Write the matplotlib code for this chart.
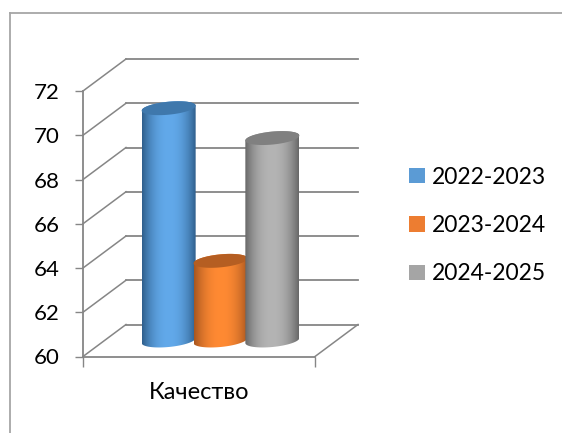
from matplotlib import pyplot as plt
from matplotlib.colors import to_rgb
from matplotlib.patches import Patch, PathPatch, Polygon
from matplotlib.path import Path
import numpy as np

plt.rcParams['font.family'] = ['Lato', 'DejaVu Sans']

years = ['2022-2023', '2023-2024', '2024-2025']
category = 'Качество'
values = [70.5, 63.6, 69.15]
y_ticks = [60, 62, 64, 66, 68, 70, 72]

legend_colors = ['#5B9BD5', '#ED7D31', '#A5A5A5']
edge_colors = ['#2F5F8C', '#A8561F', '#686868']
mid_colors = ['#62A9EA', '#FF8A33', '#B4B4B4']
top_colors = ['#3F78AC', '#B55E22', '#808080']

W, H = 562, 433
# 正面の軸の位置(ピクセル)
left, right, bottom, top = 83, 315, 356.5, 91

fig = plt.figure(figsize=(W / 100, H / 100), dpi=100)
ax = fig.add_axes([left / W, 1 - bottom / H, (right - left) / W, (bottom - top) / H])
ax.set_xlim(0, 1)
ax.set_ylim(60, 72)

# 奥行き方向のずれ(データ単位)
px_x = 1 / (right - left)
px_y = 12 / (bottom - top)
depth_x = 43 * px_x
depth_y = 32 * px_y

grid_c = '#868686'

# 背面のグリッドと側面の斜線
for v in y_ticks:
    ax.plot([depth_x, 1 + depth_x], [v + depth_y, v + depth_y], color=grid_c, lw=1.3, clip_on=False, zorder=1)
    ax.plot([0, depth_x], [v, v + depth_y], color=grid_c, lw=1.1, clip_on=False, zorder=1)
# 床の右側
ax.plot([1, 1 + depth_x], [60, 60 + depth_y], color=grid_c, lw=1.1, clip_on=False, zorder=1)

# 円柱
bar_w = 54 * px_x
cap_h = 6.5 * px_y
tilt = 2.5 * px_y
lift = 16 * px_y
base = 60 + lift
t = np.linspace(0, 2 * np.pi, 121)
n_bars = len(values)

for i, v in enumerate(values):
    cx = 0.5 + (i - (n_bars - 1) / 2) * 0.2235
    a = bar_w / 2
    bar_top = v + lift
    ell_x = cx + depth_x / 2 + a * np.cos(t)
    off_y = cap_h * np.sin(t) + tilt * np.cos(t)
    lower = t >= np.pi
    upper = t <= np.pi
    # 側面の輪郭: 下の楕円の下半分と上の楕円の上半分
    body_x = np.concatenate([ell_x[lower], ell_x[upper]])
    body_y = np.concatenate([base + off_y[lower], bar_top + off_y[upper]])
    body = PathPatch(Path(np.column_stack([body_x, body_y])), transform=ax.transData, fc='none', ec='none')
    ax.add_patch(body)

    e = np.array(to_rgb(edge_colors[i]))
    m = np.array(to_rgb(mid_colors[i]))
    s = np.linspace(-1, 1, 108)
    w = (1 - np.abs(s) ** 2.2)[:, None]
    grad = (e + (m - e) * w)[None, :, :]
    img = ax.imshow(grad, extent=[cx + depth_x / 2 - a, cx + depth_x / 2 + a, base - 10 * px_y, bar_top + 10 * px_y],
                    aspect='auto', origin='lower', zorder=3 + i, interpolation='bilinear')
    img.set_clip_path(body)

    ax.add_patch(Polygon(np.column_stack([ell_x, bar_top + off_y]), closed=True, fc=top_colors[i], ec='none', zorder=3 + i))

ax.set_xlim(0, 1)
ax.set_ylim(60, 72)

# 軸
for name in ['top', 'right']:
    ax.spines[name].set_visible(False)
for name in ['left', 'bottom']:
    ax.spines[name].set_color(grid_c)
    ax.spines[name].set_linewidth(1.3)
ax.patch.set_alpha(0)
ax.set_yticks(y_ticks)
ax.set_xticks([0, 1])
ax.set_xticklabels(['', ''])
ax.tick_params(axis='y', length=6, width=1, color=grid_c, labelsize=16, labelcolor='black', pad=11)
ax.tick_params(axis='x', length=7, width=1, color=grid_c)
ax.set_xlabel(category, fontsize=17, labelpad=8)

handles = [Patch(facecolor=c, edgecolor='none', label=y) for c, y in zip(legend_colors, years)]
fig.legend(handles=handles, loc='center left', bbox_to_anchor=(409 / W, 1 - 225.5 / H), frameon=False,
           fontsize=16.5, handlelength=0.68, handleheight=0.68, handletextpad=0.3, labelspacing=1.2,
           borderpad=0, borderaxespad=0)

# 外枠(上と左のみ)
fig.add_artist(plt.Line2D([9.5 / W, 9.5 / W], [0, 1 - 13 / H], color='#A6A6A6', lw=1.3))
fig.add_artist(plt.Line2D([9.5 / W, 1], [1 - 13 / H, 1 - 13 / H], color='#A6A6A6', lw=1.3))

fig.savefig('out.png', dpi=100)
